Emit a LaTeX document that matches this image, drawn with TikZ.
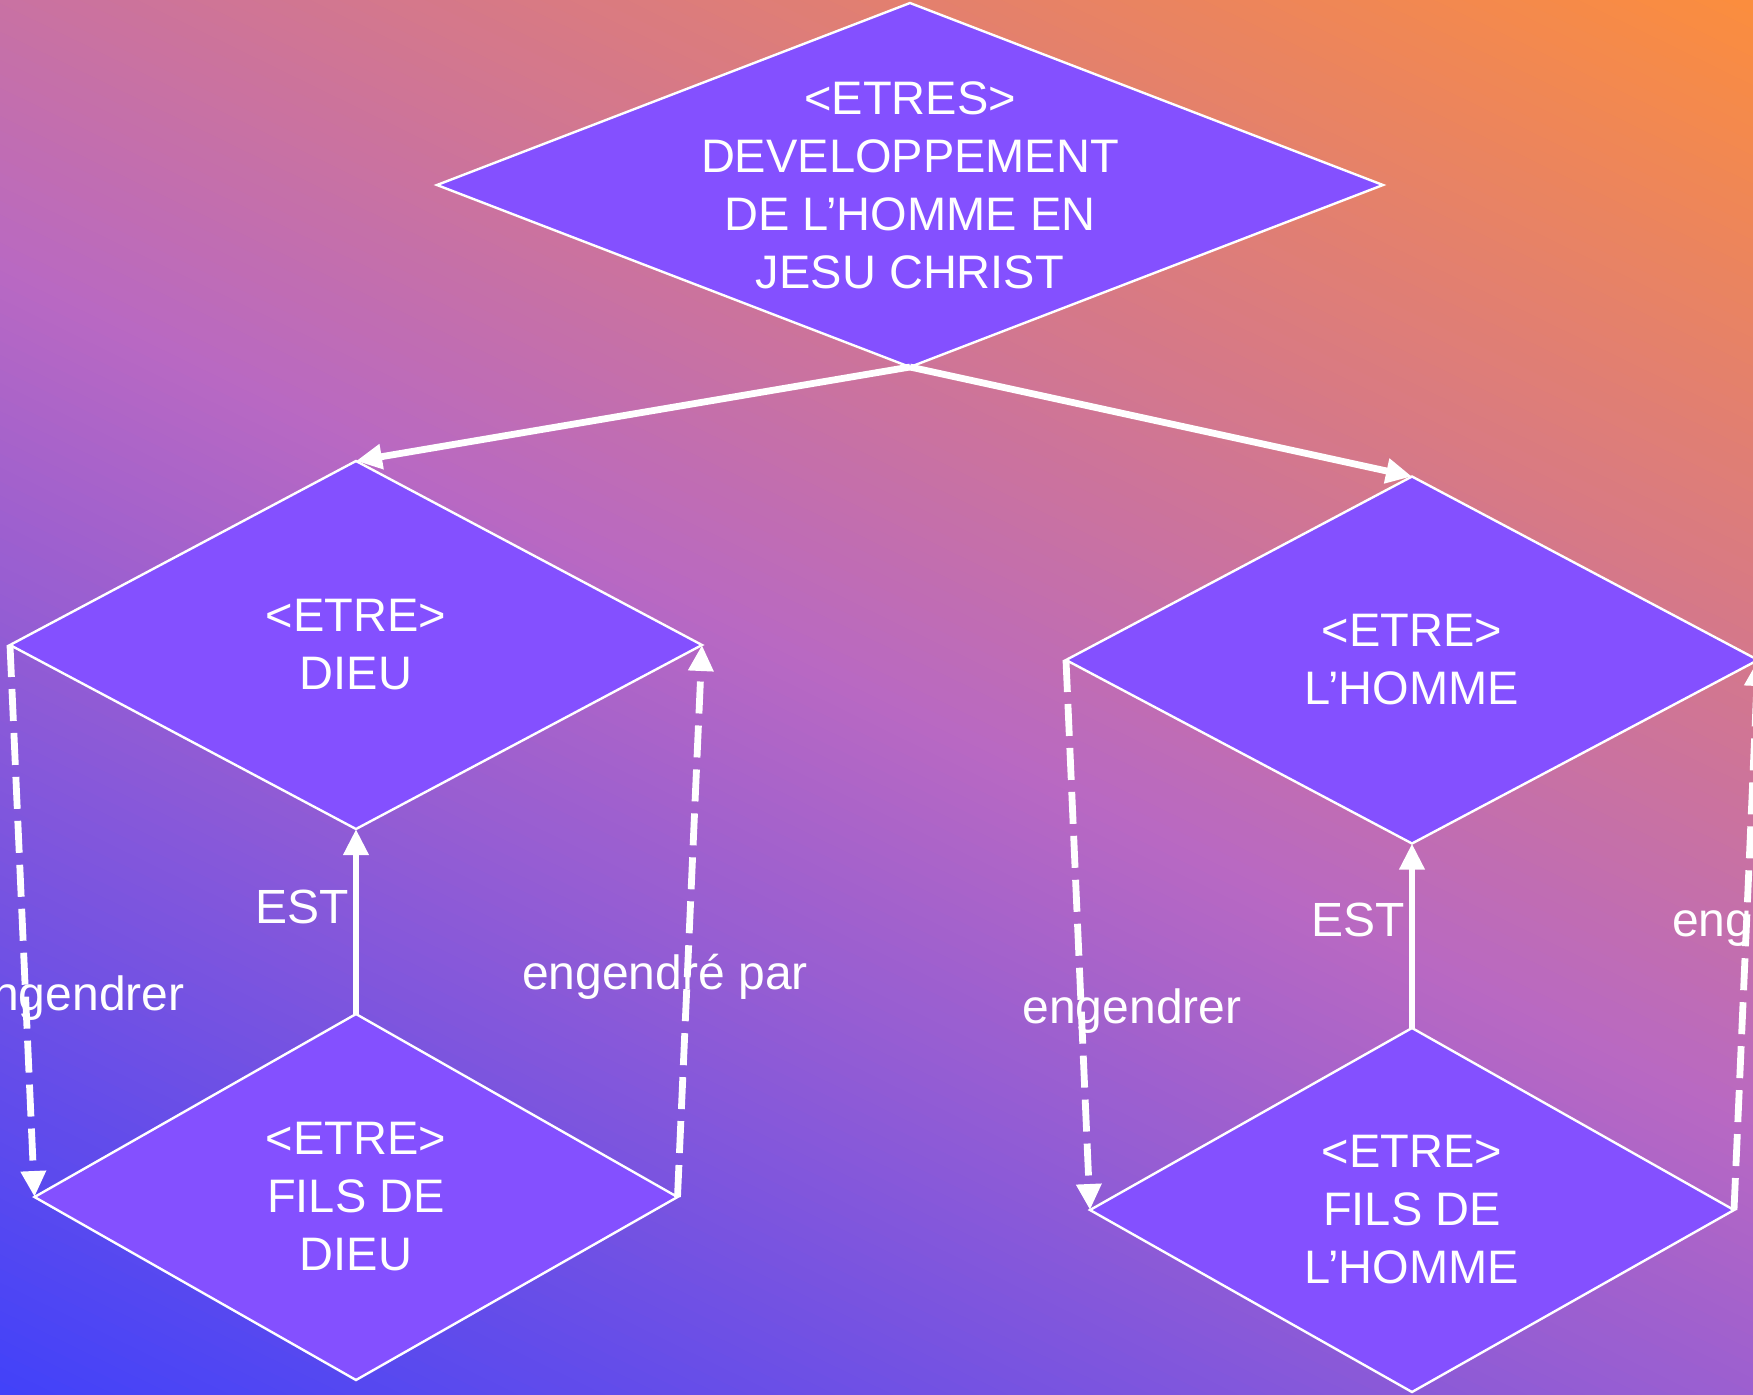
\documentclass[tikz,border=0pt]{standalone}
\usepackage{fontspec}
\setmainfont{Liberation Sans}
\usetikzlibrary{shapes.geometric,arrows.meta}
\definecolor{nodefill}{RGB}{132,80,255}
\tikzset{
  dia/.style={diamond, draw=white, line width=1.2pt, fill=nodefill, inner sep=0pt, outer sep=0pt},
  dtext/.style={text=white, font=\fontsize{23.5}{29}\selectfont, align=center, inner sep=0pt},
  lbl/.style={text=white, font=\fontsize{24}{29}\selectfont, anchor=base, inner sep=0pt},
  conn/.style={draw=white, line width=3.4pt, -{Triangle[length=13pt,width=12pt]}},
  dconn/.style={conn, dash pattern=on 16pt off 6pt},
}
\begin{document}
\begin{tikzpicture}[x=0.5pt, y=-0.5pt]
\useasboundingbox (0,0) rectangle (1753,1394);
\clip (0,0) rectangle (1753,1394);
% background gradient
\begin{scope}[shift={(0,1394)}, rotate=64]
\foreach \i in {0,...,159}{
  \pgfmathsetmacro{\gt}{(\i+0.5)/160}
  \pgfmathtruncatemacro{\colR}{\gt<0.5 ? 66+238*\gt : 118+134*\gt}
  \pgfmathtruncatemacro{\colG}{\gt<0.5 ? 66+78*\gt : 68+74*\gt}
  \pgfmathtruncatemacro{\colB}{\gt<0.5 ? 250-110*\gt : 328-266*\gt}
  \definecolor{bgc}{RGB}{\colR,\colG,\colB}
  \pgfmathsetmacro{\xa}{\i*12.63375-1}
  \pgfmathsetmacro{\xb}{\i*12.63375+13.63375}
  \fill[bgc] (\xa,-3000) rectangle (\xb,3000);
}
\end{scope}
% diamonds
\node[dia, minimum width=473pt, minimum height=182pt] (top) at (910,185) {};
\node[dia, minimum width=346pt, minimum height=184pt] (dieu) at (356,645) {};
\node[dia, minimum width=321.5pt, minimum height=183pt] (fdieu) at (356,1197) {};
\node[dia, minimum width=346pt, minimum height=183.5pt] (homme) at (1412,660) {};
\node[dia, minimum width=322pt, minimum height=182pt] (fhomme) at (1412,1210) {};
% texts
\node[dtext] (ttop) at (top.center) {<ETRES>\\DEVELOPPEMENT\\DE L'HOMME EN\\JESU CHRIST};
\node[dtext] (tdieu) at (dieu.center) {<ETRE>\\DIEU};
\node[dtext] (tfdieu) at (fdieu.center) {<ETRE>\\FILS DE\\DIEU};
\node[dtext] (thomme) at (homme.center) {<ETRE>\\L'HOMME};
\node[dtext] (tfhomme) at (fhomme.center) {<ETRE>\\FILS DE\\L'HOMME};
% labels
\node[lbl] (l1) at (302,923) {EST};
\node[lbl] (l2) at (1358,936) {EST};
\node[lbl] (l3) at (75,1010) {engendrer};
\node[lbl] (l4) at (665,989) {engendré par};
\node[lbl] (l5) at (1132,1023) {engendrer};
\node[lbl] (l6) at (1815,936) {engendré par};
% connectors
\draw[conn] (top.south) -- (dieu.north);
\draw[conn] (top.south) -- (homme.north);
\draw[conn] (fdieu.north) -- (dieu.south);
\draw[conn] (fhomme.north) -- (homme.south);
\draw[dconn] (dieu.west) -- (fdieu.west);
\draw[dconn] (fdieu.east) -- (dieu.east);
\draw[dconn] (homme.west) -- (fhomme.west);
\draw[dconn] (fhomme.east) -- (homme.east);
\end{tikzpicture}
\end{document}
